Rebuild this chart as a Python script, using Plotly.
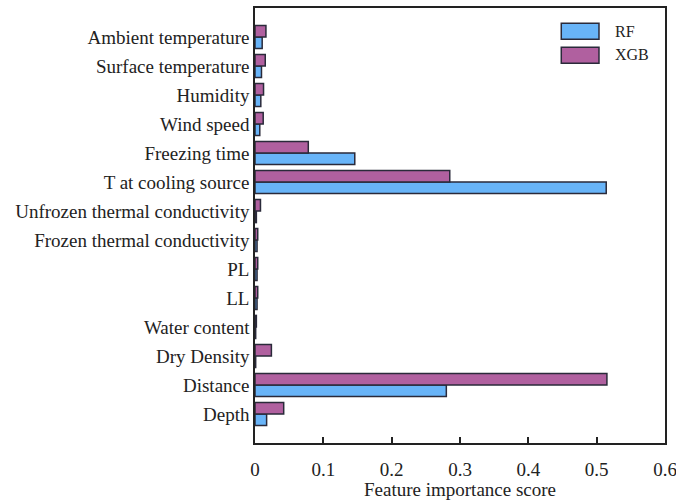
import plotly.graph_objects as go

# Feature names, listed bottom to top on the category axis
features = [
    "Depth", "Distance", "Dry Density", "Water content", "LL", "PL",
    "Frozen thermal conductivity", "Unfrozen thermal conductivity",
    "T at cooling source", "Freezing time", "Wind speed", "Humidity",
    "Surface temperature", "Ambient temperature",
]

# Feature importance scores for each model
rf_scores = [0.017, 0.280, 0.001, 0.001, 0.003, 0.003, 0.003, 0.002,
             0.514, 0.146, 0.007, 0.0085, 0.0095, 0.0105]
xgb_scores = [0.042, 0.515, 0.024, 0.002, 0.004, 0.004, 0.004, 0.008,
              0.285, 0.078, 0.012, 0.0125, 0.015, 0.016]

x_ticks = [0, 0.1, 0.2, 0.3, 0.4, 0.5, 0.6]
x_tick_text = ["0", "0.1", "0.2", "0.3", "0.4", "0.5", "0.6"]

RF_COLOR = "#68B4F8"
XGB_COLOR = "#B0609F"
EDGE = "#2a2a3a"
FONT = "Liberation Serif"

fig = go.Figure()
fig.add_trace(go.Bar(y=features, x=rf_scores, orientation="h", name="RF",
                     marker=dict(color=RF_COLOR, line=dict(color=EDGE, width=1.5)),
                     showlegend=False))
fig.add_trace(go.Bar(y=features, x=xgb_scores, orientation="h", name="XGB",
                     marker=dict(color=XGB_COLOR, line=dict(color=EDGE, width=1.5)),
                     showlegend=False))

# Hand-drawn legend with wide swatches
legend_items = [("RF", RF_COLOR), ("XGB", XGB_COLOR)]
for i, (label, color) in enumerate(legend_items):
    y_top = 0.965 - i * 0.055
    fig.add_shape(type="rect", xref="paper", yref="paper",
                  x0=0.747, x1=0.839, y0=y_top - 0.037, y1=y_top,
                  fillcolor=color, line=dict(color=EDGE, width=1.5))
    fig.add_annotation(xref="paper", yref="paper", x=0.872, y=y_top - 0.018,
                       text=label, showarrow=False, xanchor="left", yanchor="middle",
                       font=dict(family=FONT, size=16, color="#222"))

# Axis title placed just below the tick labels
fig.add_annotation(xref="paper", yref="paper", x=0.5, y=-0.108,
                   text="Feature importance score", showarrow=False,
                   xanchor="center", yanchor="middle",
                   font=dict(family=FONT, size=19, color="#222"))

fig.update_layout(
    width=676, height=501,
    margin=dict(l=255, r=11, t=8, b=58),
    paper_bgcolor="white", plot_bgcolor="white",
    barmode="group", bargap=0.2, bargroupgap=0,
    font=dict(family=FONT, size=19, color="#222"),
)
fig.update_xaxes(
    range=[0, 0.6], tickvals=x_ticks, ticktext=x_tick_text,
    ticks="inside", ticklen=6, tickwidth=1.5, tickcolor="#222",
    ticklabelstandoff=8, ticklabeloverflow="allow", automargin=False,
    showline=True, linecolor="#222", linewidth=1.5, mirror=True,
    showgrid=False, zeroline=False,
)
fig.update_yaxes(
    range=[-1, 14], showline=True, linecolor="#222", linewidth=1.5, mirror=True,
    showgrid=False, zeroline=False, ticks="", automargin=False,
)

fig.write_html("out.html")
